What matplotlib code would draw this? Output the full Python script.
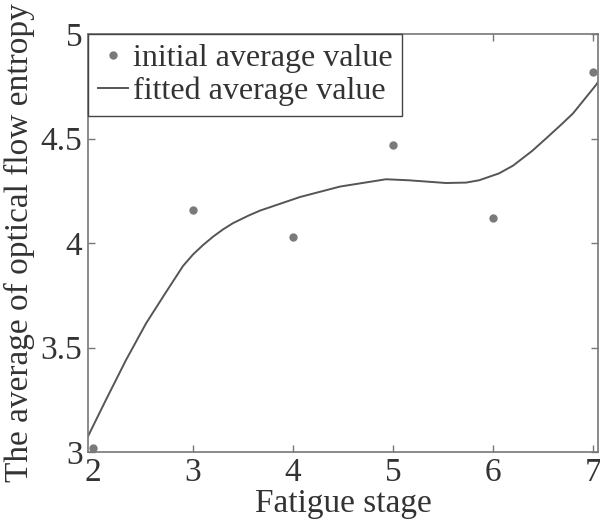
import numpy as np
import matplotlib
matplotlib.use('Agg')
import matplotlib.pyplot as plt
from matplotlib.font_manager import FontProperties

# measured points
stage = [2, 3, 4, 5, 6, 7]
initial_avg = [3.02, 4.16, 4.03, 4.47, 4.12, 4.82]

# fitted curve
fit_x = [1.95, 2.13, 2.33, 2.53, 2.71, 2.90, 3.00, 3.10, 3.20, 3.30, 3.40,
         3.55, 3.67, 4.07, 4.47, 4.93, 5.16, 5.53, 5.73, 5.86, 6.06, 6.20,
         6.39, 6.53, 6.69, 6.80, 7.03, 7.05]
fit_y = [3.075, 3.25, 3.44, 3.615, 3.75, 3.89, 3.945, 3.99, 4.03, 4.065, 4.095,
         4.13, 4.155, 4.22, 4.27, 4.305, 4.30, 4.287, 4.289, 4.30, 4.333, 4.37,
         4.44, 4.50, 4.57, 4.62, 4.756, 4.77]

xticks = [2, 3, 4, 5, 6, 7]
yticks = [3, 3.5, 4, 4.5, 5]
ytick_labels = ['3', '3.5', '4', '4.5', '5']

fp = FontProperties(family=['Liberation Serif', 'DejaVu Serif'], size=24)
fp_leg = FontProperties(family=['Liberation Serif', 'DejaVu Serif'], size=23)
txt = '#333333'

fig = plt.figure(figsize=(6, 5.22), dpi=100)
ax = fig.add_axes([88/600, 1-452/522, 510/600, 418/522])

ax.plot(stage, initial_avg, 'o', color='#7a7a7a', markersize=6,
        markeredgewidth=0, label='initial average value', clip_on=False, zorder=3)
ax.plot(fit_x, fit_y, '-', color='#555555', linewidth=1.4,
        solid_joinstyle='round', label='fitted average value')

ax.set_xlim(1.95, 7.05)
ax.set_ylim(3, 5)
ax.set_xticks(xticks)
ax.set_yticks(yticks)
ax.set_yticklabels(ytick_labels)
ax.tick_params(direction='in', length=5, width=1, top=True, right=True, pad=4,
               color='#777777', labelcolor=txt)
for lbl in ax.get_xticklabels() + ax.get_yticklabels():
    lbl.set_fontproperties(fp)
for s in ax.spines.values():
    s.set_color('#777777')
    s.set_linewidth(1.2)

ax.set_xlabel('Fatigue stage', fontproperties=fp, color=txt, labelpad=0)
ax.set_ylabel('The average of optical flow entropy', fontproperties=fp,
              color=txt, labelpad=4)

leg = ax.legend(loc='upper left', prop=fp_leg, borderaxespad=0, fancybox=False,
                edgecolor='#444444', framealpha=1, handlelength=0.95,
                handletextpad=0.15, labelspacing=0.12, borderpad=0.3)
leg.get_frame().set_linewidth(1.0)
for t in leg.get_texts():
    t.set_color(txt)

fig.savefig('out.png', dpi=100)
